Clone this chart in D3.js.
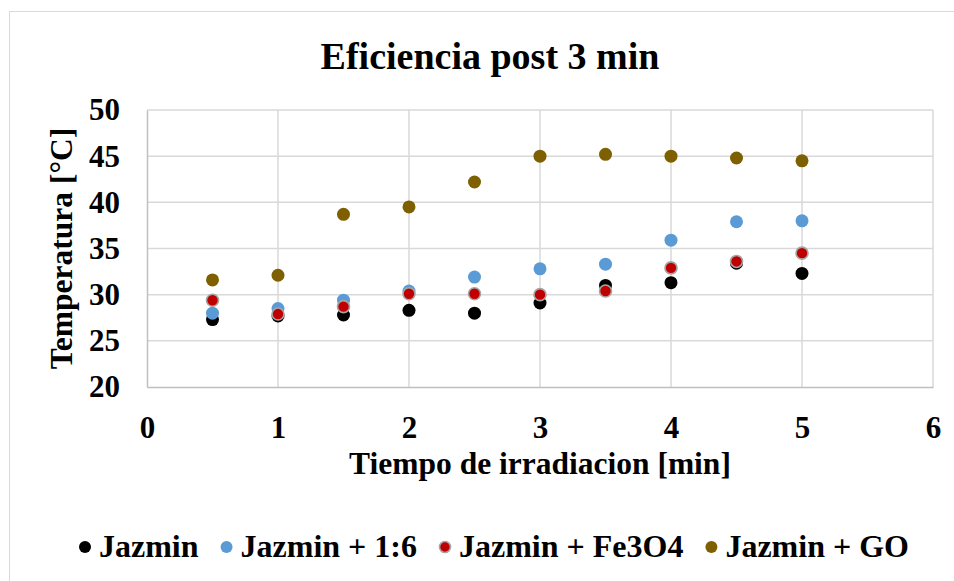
<!DOCTYPE html>
<html>
<head>
<meta charset="utf-8">
<script src="https://cdn.jsdelivr.net/npm/d3@7"></script>
<style>
  html, body { margin: 0; padding: 0; background: #fff; }
  svg { display: block; font-family: "Liberation Serif", "Times New Roman", serif; font-weight: bold; }
</style>
</head>
<body>
<svg id="chart" width="954" height="581"></svg>
<script>
// Irradiation time (min)
const times = [0.5, 1, 1.5, 2, 2.5, 3, 3.5, 4, 4.5, 5];

// Temperature readings (°C) per sample
const jazmin     = [27.3, 27.7, 27.8, 28.3, 28.0, 29.1, 31.0, 31.3, 33.4, 32.3];
const jazmin16   = [28.0, 28.5, 29.4, 30.4, 31.9, 32.8, 33.3, 35.9, 37.9, 38.0];
const jazminFe   = [29.4, 27.9, 28.7, 30.1, 30.1, 30.0, 30.4, 32.9, 33.6, 34.5];
const jazminGO   = [31.6, 32.1, 38.7, 39.5, 42.2, 45.0, 45.2, 45.0, 44.8, 44.5];

const seriesNames = ["Jazmin", "Jazmin + 1:6", "Jazmin + Fe3O4", "Jazmin + GO"];
const seriesColors = ["#000000", "#5b9bd5", "#c00000", "#7f6000"];
const seriesValues = [jazmin, jazmin16, jazminFe, jazminGO];

const xTicks = [0, 1, 2, 3, 4, 5, 6];
const yTicks = [20, 25, 30, 35, 40, 45, 50];

const svg = d3.select("#chart");
const plot = { left: 147, right: 933, top: 110, bottom: 387 };
const serif = "Liberation Serif, Times New Roman, serif";

// Chart frame
svg.append("rect")
  .attr("x", 9.5).attr("y", 11.5)
  .attr("width", 1000).attr("height", 1000)
  .attr("fill", "#fff").attr("stroke", "#d9d9d9").attr("stroke-width", 1);

const x = d3.scaleLinear().domain([0, 6]).range([plot.left, plot.right]);
const y = d3.scaleLinear().domain([20, 50]).range([plot.bottom, plot.top]);

// Gridlines
const grid = svg.append("g");
grid.selectAll("line.v").data(xTicks.slice(1)).join("line")
  .attr("x1", d => x(d)).attr("x2", d => x(d))
  .attr("y1", plot.top).attr("y2", plot.bottom)
  .attr("stroke", "#d9d9d9").attr("stroke-width", 1.5);
grid.selectAll("line.h").data(yTicks.slice(1)).join("line")
  .attr("x1", plot.left).attr("x2", plot.right)
  .attr("y1", d => y(d)).attr("y2", d => y(d))
  .attr("stroke", "#d9d9d9").attr("stroke-width", 1.5);

// Axes
const xAxis = svg.append("g")
  .attr("transform", `translate(0,${plot.bottom})`)
  .call(d3.axisBottom(x).tickValues(xTicks).tickSize(0).tickPadding(29).tickFormat(d3.format("d")));
const yAxis = svg.append("g")
  .attr("transform", `translate(${plot.left},0)`)
  .call(d3.axisLeft(y).tickValues(yTicks).tickSize(0).tickPadding(27).tickFormat(d3.format("d")));
[xAxis, yAxis].forEach(a => {
  a.attr("font-family", serif);
  a.select(".domain").attr("stroke", "#bfbfbf").attr("stroke-width", 1.5);
  a.selectAll("text")
    .attr("font-family", serif)
    .attr("font-weight", "bold").attr("font-size", 31).attr("fill", "#000");
});

// Points: one layer per series
seriesValues.forEach((vals, i) => {
  svg.append("g").selectAll("circle")
    .data(vals.map((v, j) => [times[j], v]))
    .join("circle")
    .attr("cx", d => x(d[0])).attr("cy", d => y(d[1]))
    .attr("r", i === 2 ? 6 : 6.5)
    .attr("fill", seriesColors[i])
    .attr("stroke", i === 2 ? "#a5a5a5" : "none")
    .attr("stroke-width", i === 2 ? 1.6 : 0);
});

// Title
svg.append("text")
  .attr("x", 490).attr("y", 69)
  .attr("text-anchor", "middle")
  .attr("font-size", 38)
  .text("Eficiencia post 3 min");

// Axis titles
svg.append("text")
  .attr("x", (plot.left + plot.right) / 2).attr("y", 474)
  .attr("text-anchor", "middle").attr("font-size", 31.5)
  .text("Tiempo de irradiacion [min]");
svg.append("text")
  .attr("transform", `translate(72,${(plot.top + plot.bottom) / 2}) rotate(-90)`)
  .attr("text-anchor", "middle").attr("font-size", 31.5)
  .text("Temperatura [°C]");

// Legend
const legend = svg.append("g");
let lx = 85;
seriesNames.forEach((name, i) => {
  legend.append("circle")
    .attr("cx", lx).attr("cy", 547)
    .attr("r", i === 2 ? 5.5 : 6)
    .attr("fill", seriesColors[i])
    .attr("stroke", i === 2 ? "#a5a5a5" : "none")
    .attr("stroke-width", i === 2 ? 1.6 : 0);
  const t = legend.append("text")
    .attr("x", lx + 14).attr("y", 557)
    .attr("font-size", 32)
    .text(name);
  lx += 14 + t.node().getComputedTextLength() + 28;
});
</script>
</body>
</html>
